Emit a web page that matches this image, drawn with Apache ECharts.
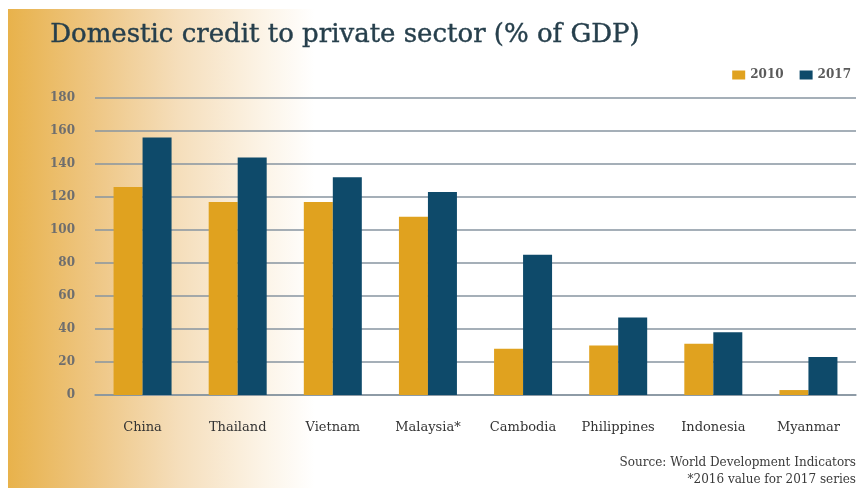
<!DOCTYPE html>
<html>
<head>
<meta charset="utf-8">
<script src="https://cdn.jsdelivr.net/npm/echarts@6/dist/echarts.min.js"></script>
<style>
  html, body { margin: 0; padding: 0; background: #fff; }
  #chart { width: 860px; height: 488px; }
</style>
</head>
<body>
<div id="chart"></div>
<script>
// Domestic credit to private sector, % of GDP
const countries = ['China', 'Thailand', 'Vietnam', 'Malaysia*', 'Cambodia', 'Philippines', 'Indonesia', 'Myanmar'];
const values2010 = [126, 117, 117, 108, 28, 30, 31, 3];
const values2017 = [156, 144, 132, 123, 85, 47, 38, 23];
const seriesNames = ['2010', '2017'];
const yTicks = [0, 20, 40, 60, 80, 100, 120, 140, 160, 180];

const serif = '"DejaVu Serif", "Liberation Serif", serif';
const gold = '#e0a21f';
const navy = '#0e4a6a';

const chart = echarts.init(document.getElementById('chart'), null, { renderer: 'canvas' });

chart.setOption({
  animation: false,
  backgroundColor: '#ffffff',
  graphic: [
    {
      type: 'rect',
      z: -10,
      silent: true,
      shape: { x: 8, y: 9, width: 852, height: 479 },
      style: {
        fill: new echarts.graphic.LinearGradient(0, 0, 1, 0, [
          { offset: 0, color: '#e8b24b' },
          { offset: 0.1, color: '#eec683' },
          { offset: 0.2, color: '#f5debb' },
          { offset: 0.3, color: '#fcf4e7' },
          { offset: 0.36, color: '#ffffff' },
          { offset: 1, color: '#ffffff' }
        ])
      }
    },
    {
      type: 'text',
      left: 50,
      top: 22,
      style: {
        text: 'Domestic credit to private sector (% of GDP)',
        font: '26px ' + serif,
        fill: '#263f4c',
        stroke: '#263f4c',
        lineWidth: 0.4
      }
    },
    {
      type: 'text',
      right: 4,
      top: 457,
      style: {
        text: 'Source: World Development Indicators',
        font: '12px ' + serif,
        fill: '#3a3a3a'
      }
    },
    {
      type: 'text',
      right: 4,
      top: 474,
      style: {
        text: '*2016 value for 2017 series',
        font: '12px ' + serif,
        fill: '#3a3a3a'
      }
    }
  ],
  legend: {
    data: seriesNames,
    right: 4,
    top: 64,
    itemWidth: 13,
    itemHeight: 9,
    itemGap: 16,
    icon: 'rect',
    textStyle: { fontFamily: serif, fontSize: 12, color: '#5a5a5a', fontWeight: 'bold' }
  },
  grid: { left: 95, right: 4, top: 98, bottom: 93, containLabel: false },
  xAxis: {
    type: 'category',
    data: countries,
    axisLine: { show: true, lineStyle: { color: '#8795a0', width: 1.5 } },
    axisTick: { show: false },
    axisLabel: { fontFamily: serif, fontSize: 13, color: '#333', margin: 26 }
  },
  yAxis: {
    type: 'value',
    min: 0,
    max: 180,
    interval: 20,
    axisLine: { show: false },
    axisTick: { show: false },
    axisLabel: {
      fontFamily: serif, fontSize: 12, color: '#6e6e6e', fontWeight: 'bold', margin: 20,
      formatter: v => (yTicks.includes(v) ? String(v) : '')
    },
    splitLine: { lineStyle: { color: '#8795a0', width: 1.5 } }
  },
  series: [
    {
      name: seriesNames[0],
      type: 'bar',
      data: values2010,
      barWidth: 29,
      barGap: '0%',
      itemStyle: { color: gold }
    },
    {
      name: seriesNames[1],
      type: 'bar',
      data: values2017,
      barWidth: 29,
      barGap: '0%',
      itemStyle: { color: navy }
    }
  ]
});
</script>
</body>
</html>
